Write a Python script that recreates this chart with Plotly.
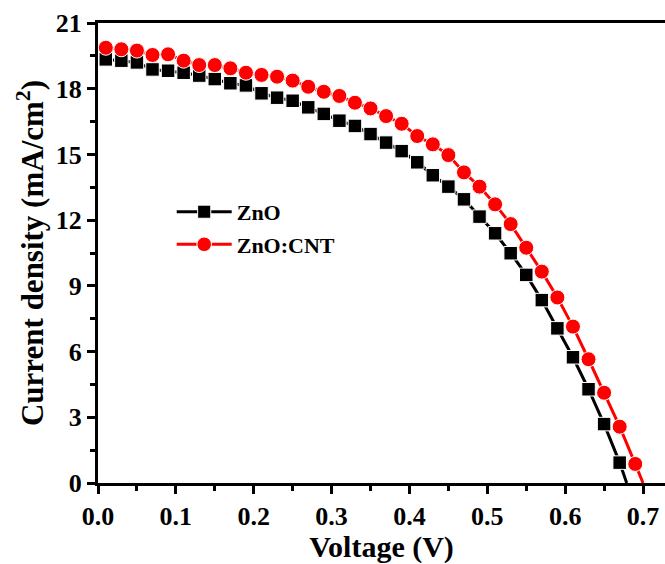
import plotly.graph_objects as go

# ---- data ----
voltage_zno = [0.01, 0.03, 0.05, 0.07, 0.09, 0.11, 0.13, 0.15, 0.17, 0.19,
               0.21, 0.23, 0.25, 0.27, 0.29, 0.31, 0.33, 0.35, 0.37, 0.39,
               0.41, 0.43, 0.45, 0.47, 0.49, 0.51, 0.53, 0.55, 0.57, 0.59,
               0.61, 0.63, 0.65, 0.67]
current_zno = [19.34, 19.28, 19.20, 18.88, 18.82, 18.73, 18.60, 18.44, 18.25, 18.15,
               17.79, 17.59, 17.45, 17.15, 16.85, 16.54, 16.30, 15.93, 15.54, 15.15,
               14.64, 14.05, 13.53, 12.95, 12.16, 11.40, 10.49, 9.50, 8.35, 7.06,
               5.74, 4.28, 2.69, 0.93]
voc_zno = 0.679

voltage_cnt = [0.01, 0.03, 0.05, 0.07, 0.09, 0.11, 0.13, 0.15, 0.17, 0.19,
               0.21, 0.23, 0.25, 0.27, 0.29, 0.31, 0.33, 0.35, 0.37, 0.39,
               0.41, 0.43, 0.45, 0.47, 0.49, 0.51, 0.53, 0.55, 0.57, 0.59,
               0.61, 0.63, 0.65, 0.67, 0.69]
current_cnt = [19.87, 19.80, 19.74, 19.54, 19.57, 19.28, 19.08, 19.08, 18.93, 18.73,
               18.63, 18.55, 18.37, 18.09, 17.86, 17.67, 17.36, 17.10, 16.75, 16.40,
               15.84, 15.46, 14.97, 14.18, 13.53, 12.72, 11.82, 10.74, 9.65, 8.47,
               7.14, 5.65, 4.12, 2.57, 0.87]
voc_cnt = 0.700

x_ticks = [0.0, 0.1, 0.2, 0.3, 0.4, 0.5, 0.6, 0.7]
y_ticks = [0, 3, 6, 9, 12, 15, 18, 21]

FONT = "Times New Roman, Liberation Serif, serif"

fig = go.Figure()
fig.add_trace(go.Scatter(
    x=voltage_zno + [voc_zno], y=current_zno + [0],
    mode="lines+markers", name="<b>ZnO</b>", legendgroup="a",
    line=dict(color="black", width=3),
    marker=dict(symbol="square", color="black", opacity=1,
                size=[13.5] * len(voltage_zno) + [0]),
))
fig.add_trace(go.Scatter(
    x=voltage_cnt + [voc_cnt], y=current_cnt + [0],
    mode="lines+markers", name="<b>ZnO:CNT</b>", legendgroup="b",
    line=dict(color="#ff0000", width=3),
    marker=dict(symbol="circle", color="#ff0000", opacity=1,
                size=[15] * len(voltage_cnt) + [0]),
))

fig.update_layout(
    width=665, height=564,
    margin=dict(l=98, r=0, t=23, b=81),
    plot_bgcolor="white", paper_bgcolor="white",
    font=dict(family=FONT, color="black", size=24),
    legend=dict(x=0.13, y=0.635, xanchor="left", yanchor="top",
                font=dict(family=FONT, size=22, color="black"),
                bgcolor="rgba(0,0,0,0)", traceorder="grouped",
                tracegroupgap=1, itemwidth=55),
)
fig.update_xaxes(
    range=[0, 0.7282], tickvals=x_ticks,
    ticktext=[f"<b>{v:.1f}</b>" for v in x_ticks],
    showline=True, linewidth=3, linecolor="black", mirror=True,
    ticks="outside", ticklen=8, tickwidth=2.5, tickcolor="black",
    minor=dict(dtick=0.05, ticks="outside", ticklen=5, tickwidth=2.5, tickcolor="black"),
    showgrid=False, zeroline=False,
    tickfont=dict(family=FONT, size=26),
    title=dict(text="<b>Voltage (V)</b>", font=dict(family=FONT, size=30), standoff=4),
)
fig.update_yaxes(
    range=[0, 21], tickvals=y_ticks,
    ticktext=[f"<b>{v}</b>" for v in y_ticks],
    showline=True, linewidth=3, linecolor="black", mirror=False,
    ticks="outside", ticklen=8, tickwidth=2.5, tickcolor="black",
    minor=dict(dtick=1.5, ticks="outside", ticklen=5, tickwidth=2.5, tickcolor="black"),
    showgrid=False, zeroline=False,
    tickfont=dict(family=FONT, size=26),
    title=dict(text="<b>Current density (mA/cm<sup>2</sup>)</b>",
               font=dict(family=FONT, size=31), standoff=3),
)

fig.write_html("out.html", config={"displayModeBar": False},
               post_script="document.body.style.margin='0';document.body.style.overflow='hidden';")
